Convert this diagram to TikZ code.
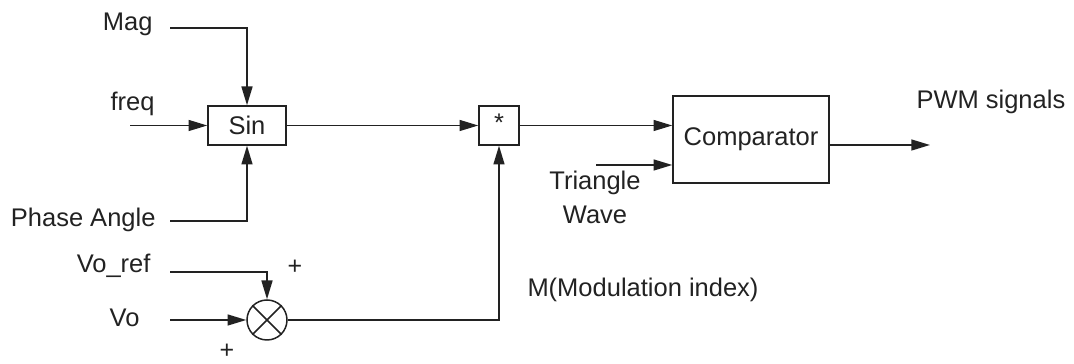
\documentclass[tikz,border=0pt]{standalone}
\usepackage{fontspec}
\setmainfont{Liberation Sans}
\usepackage{tikz}
\usetikzlibrary{arrows.meta,positioning,calc}
\definecolor{ink}{HTML}{222222}
\tikzset{
  blk/.style={draw=ink,line width=0.6pt,inner sep=0pt,text=ink,font=\fontsize{10.2}{12}\selectfont},
  sumnode/.style={circle,draw=ink,line width=0.6pt,minimum size=16pt,inner sep=0pt},
  sig/.style={-{Triangle[length=7.5pt,width=4.4pt]},line width=0.6pt,color=ink},
  wire/.style={line width=0.6pt,color=ink},
  lbl/.style={font=\fontsize{10.2}{12}\selectfont,text=ink,inner sep=0pt},
  sgn/.style={font=\fontsize{10}{12}\selectfont,text=ink,inner sep=0pt},
}

\begin{document}
\begin{tikzpicture}[x=0.4pt,y=-0.4pt]
  \useasboundingbox (0,0) rectangle (1074,364);
  \node[blk,minimum width=31.2pt,minimum height=15.6pt] (sin) at (247,125.5) {Sin};
  \node[blk,minimum width=16pt,minimum height=15.6pt] (mult) at (499,125.5) {\strut*};
  \node[blk,minimum width=62.4pt,minimum height=34.8pt] (cmp) at (751,139.5) {Comparator};
  \node[sumnode] (sum) at (267,320) {};
  \node[lbl,anchor=base east] (mag) at (153,31) {Mag};
  \node[lbl,anchor=base east] (freq) at (155,111) {freq};
  \node[lbl,anchor=base east] (phase) at (156,227) {Phase Angle};
  \node[lbl,anchor=base east] (voref) at (151,273) {Vo\_ref};
  \node[lbl,anchor=base east] (vo) at (140,327) {Vo};
  \node[lbl,anchor=base west] (mod) at (527,297) {M(Modulation index)};
  \node[lbl,anchor=base west] (pwm) at (916,109) {PWM signals};
  \node[lbl,font=\fontsize{10.2}{13.6}\selectfont,align=center,anchor=north] (tri) at (595,171) {Triangle\\Wave};
  \node[sgn] (plusA) at (295,267) {+};
  \node[sgn] (plusB) at (227,351) {+};
  \coordinate (magS) at (170,28);
  \coordinate (freqS) at (130,125.5);
  \coordinate (phaseS) at (170,221);
  \coordinate (vorefS) at (170,272);
  \coordinate (voS) at (170,320);
  \coordinate (triS) at (596,165);
  \coordinate (pwmE) at (930,145);
  \draw[sig] (magS) -| (sin);
  \draw[sig] (freqS) -- (sin);
  \draw[sig] (phaseS) -| (sin);
  \draw[sig] (sin) -- (mult);
  \draw[sig] (vorefS) -| (sum);
  \draw[sig] (voS) -- (sum);
  \draw[sig] (sum) -| (mult);
  \draw[sig] (mult) -- (mult -| cmp.west);
  \draw[sig] (triS) -- (triS -| cmp.west);
  \draw[sig] (cmp.east |- pwmE) -- (pwmE);
  \draw[wire] (sum.north west) -- (sum.south east) (sum.north east) -- (sum.south west);
\end{tikzpicture}
\end{document}
